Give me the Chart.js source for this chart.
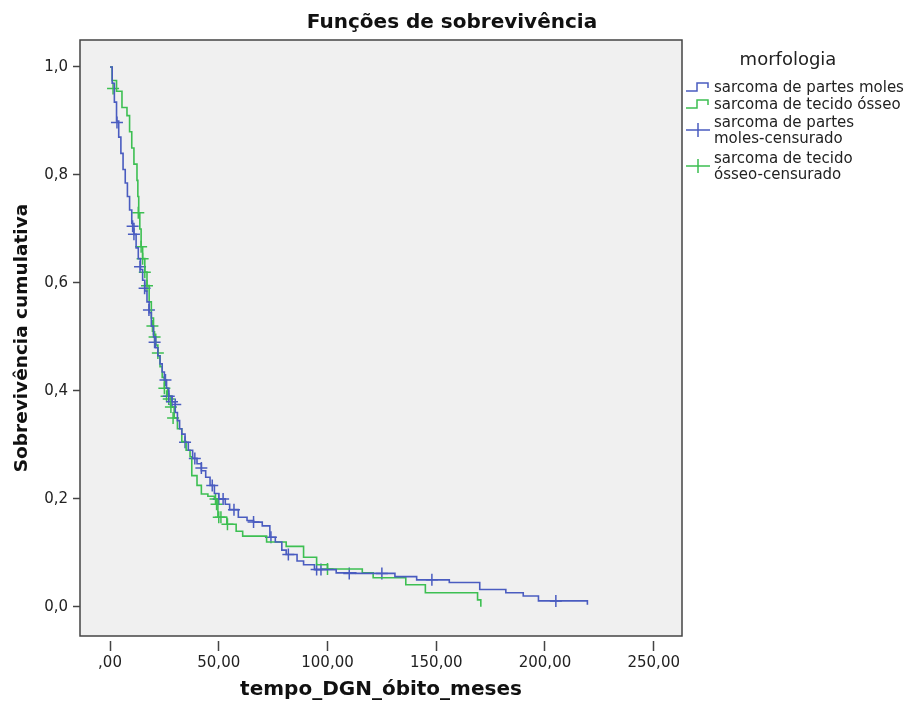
<!DOCTYPE html>
<html lang="pt">
<head>
<meta charset="UTF-8">
<title>Funções de sobrevivência</title>
<script src="https://cdn.jsdelivr.net/npm/chart.js"></script>
<style>
  body { margin: 0; background: #fff; font-family: "DejaVu Sans", sans-serif; }
  #wrap { position: relative; width: 904px; height: 702px; overflow: hidden; }
  #title { position: absolute; left: 0; top: 9px; width: 904px; text-align: center;
           font-weight: bold; font-size: 20px; color: #111; }
  #legend { position: absolute; left: 684px; top: 0; width: 220px; color: #222; font-size: 15px; }
  #legend .ttl { position: absolute; left: 0; width: 208px; top: 48px; text-align: center; font-size: 18px; }
  #legend .item { position: absolute; left: 2px; display: flex; align-items: center; line-height: 16px; white-space: nowrap; }
  #legend svg { flex: none; margin-right: 4px; }
</style>
</head>
<body>
<div id="wrap">
  <canvas id="km" width="904" height="702"></canvas>
  <div id="title">Funções de sobrevivência</div>
  <div id="legend">
    <div class="ttl">morfologia</div>
    <div class="item" style="top:79px">
      <svg width="24" height="14"><path d="M0 11 H11 V3 H22 V8" fill="none" stroke="#4a5cc0" stroke-width="1.5"/></svg>
      <span>sarcoma de partes moles</span></div>
    <div class="item" style="top:96px">
      <svg width="24" height="14"><path d="M0 11 H11 V3 H22 V8" fill="none" stroke="#3dbf52" stroke-width="1.5"/></svg>
      <span>sarcoma de tecido ósseo</span></div>
    <div class="item" style="top:114px">
      <svg width="24" height="16"><path d="M0 8 H24 M12 1 V15" fill="none" stroke="#4a5cc0" stroke-width="1.5"/></svg>
      <span>sarcoma de partes<br>moles-censurado</span></div>
    <div class="item" style="top:150px">
      <svg width="24" height="16"><path d="M0 8 H24 M12 1 V15" fill="none" stroke="#3dbf52" stroke-width="1.5"/></svg>
      <span>sarcoma de tecido<br>ósseo-censurado</span></div>
  </div>
</div>
<script>
// Kaplan-Meier steps (time in months, cumulative survival)
const moleTime = [0, 1, 2, 3, 4, 5, 6, 7, 8, 9, 10, 11, 12, 13, 14, 15, 16, 17, 18, 19, 20, 21, 22, 23, 24, 25, 26, 27, 28.5, 30, 31, 32, 33, 34.5, 36, 38, 40, 42, 44, 46, 48, 50, 53, 55, 59, 63, 66, 70, 73.5, 76, 79, 81, 86, 89, 94, 104, 113, 131, 141, 156, 170, 182, 190, 197, 219.5];
const moleSurv = [1.0, 0.97, 0.935, 0.90, 0.87, 0.84, 0.81, 0.785, 0.76, 0.735, 0.71, 0.69, 0.665, 0.645, 0.625, 0.605, 0.585, 0.565, 0.545, 0.52, 0.50, 0.48, 0.465, 0.45, 0.435, 0.42, 0.405, 0.39, 0.38, 0.36, 0.345, 0.33, 0.32, 0.305, 0.29, 0.275, 0.265, 0.252, 0.24, 0.225, 0.21, 0.20, 0.19, 0.18, 0.166, 0.16, 0.157, 0.15, 0.129, 0.12, 0.105, 0.097, 0.085, 0.078, 0.069, 0.063, 0.062, 0.056, 0.05, 0.045, 0.032, 0.026, 0.02, 0.011, 0.004];

const osseoTime = [0, 1, 3, 5.5, 7.8, 9, 10, 11, 12.4, 12.8, 13.2, 13.7, 14.3, 15, 16, 17, 18, 19, 20, 21, 22, 23, 24, 25, 26.5, 28, 29.5, 31, 33, 35, 36.8, 37.6, 40, 42, 45, 48, 49.6, 53.7, 58, 61, 72, 81, 89, 95, 100, 116, 121, 136, 145, 169, 170.5];
const osseoSurv = [1.0, 0.975, 0.955, 0.925, 0.91, 0.88, 0.85, 0.82, 0.79, 0.76, 0.73, 0.70, 0.667, 0.645, 0.62, 0.595, 0.565, 0.535, 0.505, 0.485, 0.465, 0.445, 0.425, 0.405, 0.39, 0.37, 0.35, 0.33, 0.306, 0.29, 0.278, 0.243, 0.225, 0.209, 0.205, 0.20, 0.166, 0.153, 0.14, 0.131, 0.12, 0.112, 0.092, 0.078, 0.07, 0.063, 0.054, 0.041, 0.026, 0.013, 0.0];

// censored observations
const moleCensTime = [3.2, 10.4, 11, 13.8, 15.9, 17.9, 20.5, 25.5, 27, 28.5, 30, 34.5, 39, 42, 47, 50, 52, 57, 66, 74, 82, 95, 97, 110, 125, 148, 205];
const moleCensSurv = [0.897, 0.705, 0.69, 0.63, 0.59, 0.55, 0.49, 0.42, 0.39, 0.38, 0.375, 0.305, 0.275, 0.257, 0.225, 0.20, 0.20, 0.18, 0.157, 0.129, 0.097, 0.069, 0.069, 0.062, 0.062, 0.05, 0.011];
const osseoCensTime = [1.4, 13, 14.3, 15, 16, 17, 19.5, 20.5, 22, 25, 26, 27, 28, 29, 48.5, 49, 50, 51, 54, 100];
const osseoCensSurv = [0.96, 0.73, 0.667, 0.645, 0.62, 0.595, 0.52, 0.5, 0.47, 0.405, 0.39, 0.385, 0.37, 0.35, 0.2, 0.19, 0.166, 0.166, 0.153, 0.07];

const xTicks = [0, 50, 100, 150, 200, 250];
const yTicks = [0, 0.2, 0.4, 0.6, 0.8, 1.0];

const blue = '#4a5cc0';
const green = '#3dbf52';

function pts(xs, ys) { return xs.map((x, i) => ({ x: x, y: ys[i] })); }

// grey plot background and frame
const plotFrame = {
    id: 'plotFrame',
    beforeDraw(chart) {
        const a = chart.chartArea, c = chart.ctx;
        c.save();
        c.fillStyle = '#f0f0f0';
        c.fillRect(a.left, a.top, a.right - a.left, a.bottom - a.top);
        c.restore();
    },
    afterDraw(chart) {
        const a = chart.chartArea, c = chart.ctx;
        c.save();
        c.strokeStyle = '#444';
        c.lineWidth = 1.5;
        c.strokeRect(a.left, a.top, a.right - a.left, a.bottom - a.top);
        c.restore();
    }
};

Chart.defaults.font.family = '"DejaVu Sans", sans-serif';
Chart.defaults.color = '#222';

new Chart(document.getElementById('km'), {
    type: 'line',
    data: {
        datasets: [
            { label: 'sarcoma de partes moles', data: pts(moleTime, moleSurv), borderColor: blue,
              borderWidth: 1.6, stepped: 'before', pointRadius: 0, fill: false },
            { label: 'sarcoma de tecido ósseo', data: pts(osseoTime, osseoSurv), borderColor: green,
              borderWidth: 1.6, stepped: 'before', pointRadius: 0, fill: false },
            { label: 'sarcoma de partes moles-censurado', data: pts(moleCensTime, moleCensSurv),
              showLine: false, pointStyle: 'cross', pointRadius: 6, borderColor: blue, borderWidth: 1.5 },
            { label: 'sarcoma de tecido ósseo-censurado', data: pts(osseoCensTime, osseoCensSurv),
              showLine: false, pointStyle: 'cross', pointRadius: 6, borderColor: green, borderWidth: 1.5 }
        ]
    },
    options: {
        responsive: false,
        animation: false,
        layout: { padding: { top: 40, right: 222, left: 0, bottom: 0 } },
        plugins: { legend: { display: false }, tooltip: { enabled: false } },
        scales: {
            x: {
                type: 'linear', min: -13.8, max: 263,
                afterFit: s => { s.height = 66; },
                afterBuildTicks: s => { s.ticks = xTicks.map(v => ({ value: v })); },
                ticks: {
                    padding: 3, font: { size: 15 }, maxRotation: 0,
                    callback: v => v === 0 ? ',00' : v.toFixed(2).replace('.', ',')
                },
                grid: { drawOnChartArea: false, tickLength: 15, color: '#444', tickWidth: 1.5,
                        tickBorderDash: [0, 5, 10, 50] },
                border: { display: false },
                title: { display: true, text: 'tempo_DGN_óbito_meses', font: { size: 20, weight: 'bold' },
                         color: '#111', padding: { top: 0, bottom: 0 } }
            },
            y: {
                type: 'linear', min: -0.054, max: 1.05,
                afterFit: s => { s.width = 80; },
                afterBuildTicks: s => { s.ticks = yTicks.map(v => ({ value: v })); },
                ticks: {
                    padding: 5, font: { size: 15 },
                    callback: v => v.toFixed(1).replace('.', ',')
                },
                grid: { drawOnChartArea: false, tickLength: 7, color: '#444', tickWidth: 1.5 },
                border: { display: false },
                title: { display: true, text: 'Sobrevivência cumulativa', font: { size: 18.5, weight: 'bold' },
                         color: '#111', padding: { top: 11, bottom: 0 } }
            }
        }
    },
    plugins: [plotFrame]
});
</script>
</body>
</html>
